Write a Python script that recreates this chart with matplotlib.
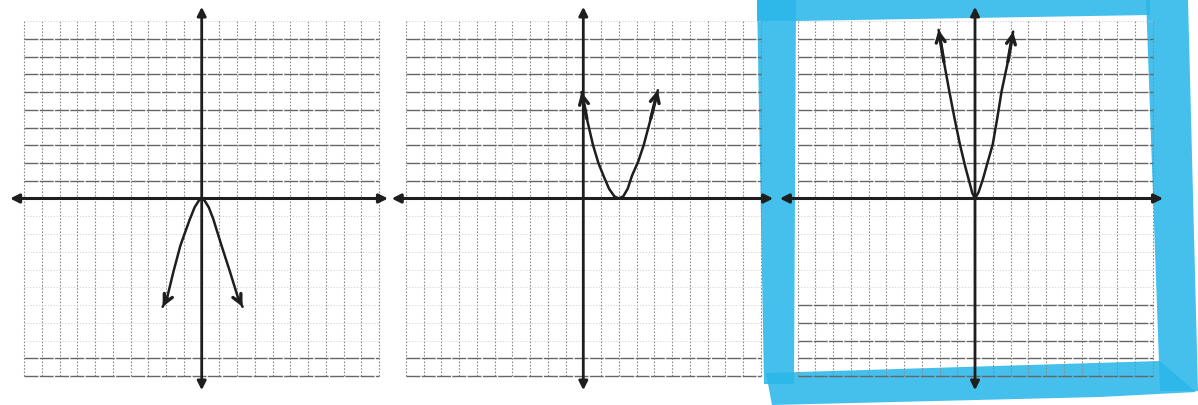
import matplotlib.pyplot as plt
from matplotlib.patches import Polygon

W, H = 1198, 406
U = 17.75          # pixels per grid unit
LIM = 11.5

# panel centres (origin) in image pixels
centres = [(201.7, 199.5), (583.3, 199.5), (975.0, 199.5)]

# hand-drawn parabolas
x1 = [-2.2, -1.95, -1.6, -1.2, -0.7, -0.4, -0.15, 0.0, 0.15, 0.4, 0.65, 1.1, 1.6, 2.05, 2.3]
y1 = [-6.1, -5.6, -4.15, -2.65, -1.25, -0.5, -0.1, 0.0, -0.1, -0.5, -1.15, -2.6, -4.15, -5.6, -6.1]

x2 = [-0.1, 0.2, 0.55, 0.85, 1.15, 1.45, 1.75, 2.0, 2.25, 2.5, 2.75, 3.1, 3.4, 3.8, 4.2]
y2 = [6.0, 4.5, 3.0, 2.0, 1.25, 0.55, 0.12, 0.0, 0.12, 0.55, 1.3, 2.1, 3.0, 4.5, 6.1]

x3 = [-2.05, -1.75, -1.45, -1.15, -0.85, -0.55, -0.35, -0.15, 0.0, 0.2, 0.45, 0.7, 1.0, 1.25, 1.5, 1.85, 2.15]
y3 = [9.5, 7.7, 6.05, 4.5, 3.05, 1.8, 1.05, 0.3, 0.0, 0.35, 1.1, 2.0, 3.05, 4.5, 6.05, 7.7, 9.4]

curves = [(x1, y1), (x2, y2), (x3, y3)]

# which horizontal grid lines survived the scan
strong_rows = [
    [1, 2, 3, 4, 5, 6, 7, 8, 9, -9, -10],
    [1, 2, 3, 4, 5, 6, 7, 8, 9, -9, -10],
    [1, 2, 3, 4, 5, 6, 7, 8, 9, -6, -7, -8, -9, -10],
]

# axis arrow extents (left, right, bottom, top)
axis_ext = [(-10.8, 10.5, -10.8, 10.8),
            (-10.8, 10.7, -10.8, 10.8),
            (-11.0, 10.6, -10.8, 10.8)]

fig = plt.figure(figsize=(W / 100, H / 100), dpi=100)
fig.patch.set_facecolor('white')

ink = '#1e1e1e'

for i, (cx, cy) in enumerate(centres):
    ax = fig.add_axes([(cx - LIM * U) / W, (H - cy - LIM * U) / H,
                       2 * LIM * U / W, 2 * LIM * U / H])
    ax.set_xlim(-LIM, LIM)
    ax.set_ylim(-LIM, LIM)
    ax.axis('off')
    ax.patch.set_alpha(0)
    ax.set_zorder(2)

    # graph paper
    ticks = list(range(-10, 11))
    ax.vlines(ticks, -10, 10, color='#8c8c8c', lw=0.8, linestyles=(0, (1.5, 1.5)))
    faint = [t for t in ticks if t not in strong_rows[i] and t != 0]
    ax.hlines(faint, -10, 10, color='#cfcfcf', lw=0.6, linestyles=(0, (1.5, 2)))
    ax.hlines(strong_rows[i], -10, 10, color='#666666', lw=1.0, linestyles=(0, (10, 1)))

    # axes with arrows
    l, r, b, t = axis_ext[i]
    ax.annotate('', xy=(r, 0), xytext=(l, 0),
                arrowprops=dict(arrowstyle='<|-|>', lw=2.2, color=ink,
                                mutation_scale=13, shrinkA=0, shrinkB=0))
    ax.annotate('', xy=(0, t), xytext=(0, b),
                arrowprops=dict(arrowstyle='<|-|>', lw=2.0, color=ink,
                                mutation_scale=13, shrinkA=0, shrinkB=0))

    # parabola
    xs, ys = curves[i]
    ax.plot(xs, ys, color=ink, lw=1.8, solid_capstyle='round', solid_joinstyle='round')
    for a, b2 in [(1, 0), (-2, -1)]:
        ax.annotate('', xy=(xs[b2], ys[b2]), xytext=(xs[a], ys[a]),
                    arrowprops=dict(arrowstyle='->', lw=2.4, color=ink,
                                    mutation_scale=16, shrinkA=0, shrinkB=0))


# blue highlighter frame around the third panel (image pixels), under the ink
def fp(pts):
    return [(x / W, 1 - y / H) for x, y in pts]


blue = '#2bb8ea'
strips = [
    [(757, 0), (796, 0), (794, 385), (764, 385)],
    [(757, 0), (1150, 0), (1150, 16), (796, 22), (757, 22)],
    [(1146, 0), (1188, 0), (1198, 392), (1160, 392)],
    [(766, 374), (1160, 362), (1196, 393), (1100, 398), (772, 406)],
]
for s in strips:
    fig.patches.append(Polygon(fp(s), closed=True, transform=fig.transFigure,
                               facecolor=blue, edgecolor='none', alpha=0.88,
                               zorder=1))

fig.savefig('out.png', dpi=100)
